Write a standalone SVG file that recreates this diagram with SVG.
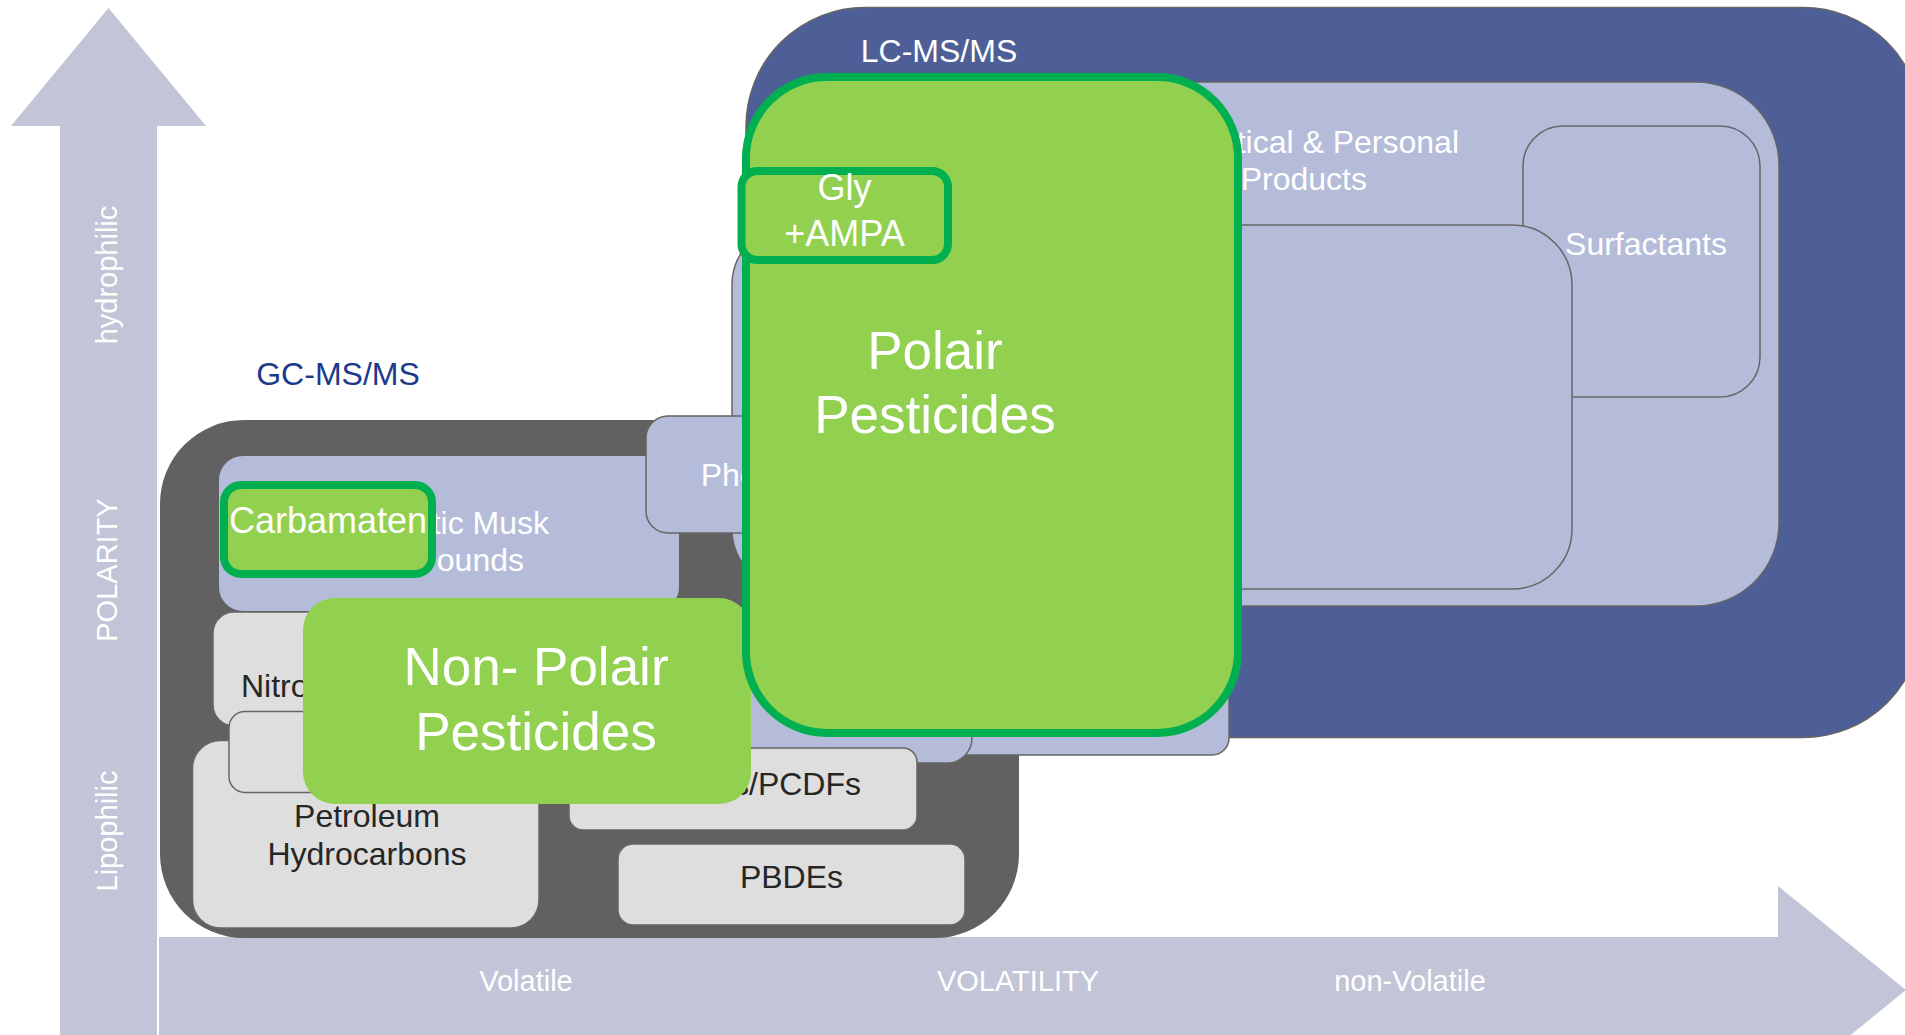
<svg xmlns="http://www.w3.org/2000/svg" width="1905" height="1035" viewBox="0 0 1905 1035">
  <style>
    .t { font-family: "Liberation Sans", Arial, sans-serif; }
    .w { fill: #ffffff; }
    .d { fill: #262626; }
    .axis { fill: #c1c5d7; }
    .lav { fill: #b4bcda; stroke: #666666; stroke-width: 1.5; }
    .lav-plain { fill: #b4bcda; }
    .grey { fill: #dedede; stroke: #666666; stroke-width: 1.5; }
    .green { fill: #92d050; }
    .green-out { fill: #92d050; stroke: #00b050; stroke-width: 8; }
    .s32 { font-size: 32px; }
    .s36 { font-size: 36px; }
    .s53 { font-size: 53px; }
    .ax { font-size: 29px; fill: #ffffff; }
  </style>

  <!-- axes -->
  <g id="axis-polarity">
    <polygon class="axis" points="60,1040 60,126 11,126 108.5,8 206,126 157,126 157,1040"/>
    <text class="t ax" text-anchor="middle" transform="translate(117,275) rotate(-90)">hydrophilic</text>
    <text class="t ax" text-anchor="middle" transform="translate(117,570) rotate(-90)">POLARITY</text>
    <text class="t ax" text-anchor="middle" transform="translate(117,831) rotate(-90)">Lipophilic</text>
  </g>
  <g id="axis-volatility">
    <polygon class="axis" points="159,937 1778,937 1778,886 1906,990 1778,1094 1778,1043 159,1043"/>
    <text class="t ax" x="526" y="991" text-anchor="middle">Volatile</text>
    <text class="t ax" x="1018" y="991" text-anchor="middle">VOLATILITY</text>
    <text class="t ax" x="1410" y="991" text-anchor="middle">non-Volatile</text>
  </g>

  <!-- GC-MS/MS domain -->
  <g id="gc-msms">
    <rect x="160" y="420" width="859" height="518" rx="84" fill="#616161"/>
    <text class="t s32" x="338" y="385" text-anchor="middle" fill="#1b3a8c">GC-MS/MS</text>
  </g>

  <!-- LC-MS/MS domain -->
  <g id="lc-msms">
    <rect x="746" y="7.5" width="1176" height="730" rx="119" fill="#4e5e97" stroke="#666666" stroke-width="1.5"/>
    <text class="t s32 w" x="939" y="62" text-anchor="middle">LC-MS/MS</text>
  </g>

  <g id="pharmaceuticals">
    <rect class="lav" x="760" y="82" width="1019" height="524" rx="83"/>
    <text class="t s32 w" x="1459" y="153" text-anchor="end">tical &amp; Personal</text>
    <text class="t s32 w" x="1367" y="190" text-anchor="end">Products</text>
  </g>

  <g id="surfactants">
    <rect class="lav" x="1523" y="126" width="237" height="271" rx="40"/>
    <text class="t s32 w" x="1646" y="255" text-anchor="middle">Surfactants</text>
  </g>

  <g id="lc-inner">
    <rect class="lav" x="732" y="225" width="840" height="364" rx="60"/>
  </g>

  <g id="musk">
    <rect class="lav-plain" x="219" y="456" width="460" height="155" rx="24"/>
    <text class="t s32 w" x="549" y="533.5" text-anchor="end">tic Musk</text>
    <text class="t s32 w" x="524" y="571" text-anchor="end">ounds</text>
  </g>

  <g id="nitro">
    <rect class="grey" x="213" y="612" width="300" height="114" rx="21"/>
    <text class="t s32 d" x="241" y="697">Nitro</text>
  </g>

  <g id="petroleum">
    <rect class="grey" x="192.5" y="740.5" width="346.5" height="187.5" rx="28"/>
    <text class="t s32 d" x="367" y="827" text-anchor="middle">Petroleum</text>
    <text class="t s32 d" x="367" y="865" text-anchor="middle">Hydrocarbons</text>
  </g>

  <g id="pah">
    <rect class="grey" x="229" y="711.5" width="280" height="81" rx="16"/>
  </g>

  <g id="phe">
    <rect class="lav" x="646" y="416" width="130" height="117" rx="22"/>
    <text class="t s32 w" x="700.7" y="486">Phe</text>
  </g>

  <g id="lc-strip-a">
    <rect class="lav" x="745" y="640" width="484" height="115" rx="17"/>
  </g>
  <g id="lc-strip-b">
    <rect class="lav" x="745" y="680" width="227" height="83" rx="25"/>
  </g>

  <g id="pcdfs">
    <rect class="grey" x="569" y="748" width="348" height="82" rx="14"/>
    <text class="t s32 d" x="861" y="795" text-anchor="end">s/PCDFs</text>
  </g>

  <g id="pbdes">
    <rect class="grey" x="618" y="844" width="347" height="81" rx="15"/>
    <text class="t s32 d" x="791.5" y="887.5" text-anchor="middle">PBDEs</text>
  </g>

  <!-- pesticide groups -->
  <g id="non-polair">
    <rect class="green" x="303" y="598" width="448" height="206" rx="32"/>
    <text class="t s53 w" x="536" y="685" text-anchor="middle">Non- Polair</text>
    <text class="t s53 w" x="536" y="749.5" text-anchor="middle">Pesticides</text>
  </g>

  <g id="polair">
    <rect class="green-out" x="746" y="77" width="492" height="656" rx="81"/>
    <text class="t s53 w" x="935" y="368.5" text-anchor="middle">Polair</text>
    <text class="t s53 w" x="935" y="433" text-anchor="middle">Pesticides</text>
  </g>

  <g id="gly-ampa">
    <rect class="green-out" x="741.5" y="171" width="206.5" height="89" rx="16"/>
    <text class="t s36 w" x="844.5" y="200" text-anchor="middle">Gly</text>
    <text class="t s36 w" x="844.5" y="246.4" text-anchor="middle">+AMPA</text>
  </g>

  <g id="carbamaten">
    <rect class="green-out" x="224" y="485" width="208" height="89" rx="17"/>
    <text class="t s36 w" x="328" y="533" text-anchor="middle">Carbamaten</text>
  </g>

  <g id="connectors"/>
</svg>
